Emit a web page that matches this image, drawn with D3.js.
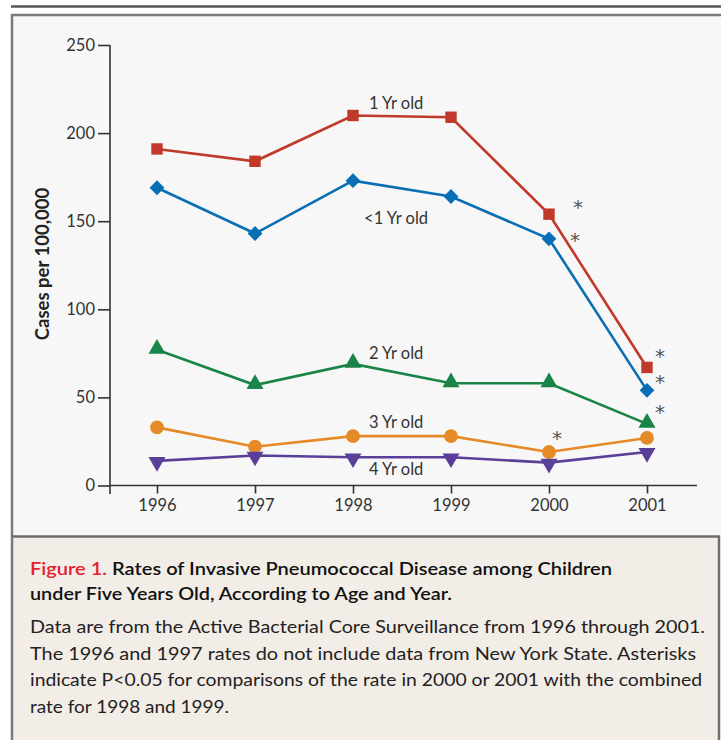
<!DOCTYPE html>
<html><head><meta charset="utf-8">
<script src="https://cdn.jsdelivr.net/npm/d3@7"></script>
<style>body{margin:0;background:#fff}svg{display:block}</style>
</head><body>
<script>
const years = [1996, 1997, 1998, 1999, 2000, 2001];
const yTicks = [0, 50, 100, 150, 200, 250];
const oneYr = [191, 184, 210, 209, 154, 67];
const underOne = [169, 143, 173, 164, 140, 54];
const twoYr = [77, 57, 69, 58, 58, 35];
const threeYr = [33, 22, 28, 28, 19, 27];
const fourYr = [14, 17, 16, 16, 13, 19];
const seriesNames = ["1 Yr old", "<1 Yr old", "2 Yr old", "3 Yr old", "4 Yr old"];
const seriesLabelValues = [213.5, 148.5, 72, 32.5, 6]; // value level at which each label sits (year 1998.44)
const asteriskPoints = [
  {s: 0, year: 2000}, {s: 1, year: 2000}, {s: 0, year: 2001},
  {s: 1, year: 2001}, {s: 2, year: 2001}, {s: 3, year: 2000}
];
const captionTitle = ["Rates of Invasive Pneumococcal Disease among Children", "under Five Years Old, According to Age and Year."];
const captionBody = [
  "Data are from the Active Bacterial Core Surveillance from 1996 through 2001.",
  "The 1996 and 1997 rates do not include data from New York State. Asterisks",
  "indicate P<0.05 for comparisons of the rate in 2000 or 2001 with the combined",
  "rate for 1998 and 1999."
];

const series = [
  {name: seriesNames[0], values: oneYr, color: "#c0392b", shape: "square"},
  {name: seriesNames[1], values: underOne, color: "#0a6eb4", shape: "diamond"},
  {name: seriesNames[2], values: twoYr, color: "#188447", shape: "triup"},
  {name: seriesNames[3], values: threeYr, color: "#e58a26", shape: "circle"},
  {name: seriesNames[4], values: fourYr, color: "#5a3f98", shape: "tridown"}
];

const W = 721, H = 740;
const svg = d3.select("body").append("svg").attr("width", W).attr("height", H);

svg.append("rect").attr("x", 0).attr("y", 0).attr("width", W).attr("height", H).attr("fill", "#fff");
svg.append("line").attr("x1", 11).attr("x2", W).attr("y1", 6.5).attr("y2", 6.5).attr("stroke", "#555").attr("stroke-width", 2.5);
svg.append("rect").attr("x", 12).attr("y", 15).attr("width", W - 12).attr("height", 521).attr("fill", "#f7f7f7");
svg.append("rect").attr("x", 12).attr("y", 537).attr("width", 707).attr("height", 210).attr("fill", "#f2ede6");
svg.append("path").attr("d", `M12,${H}V15H${W}`).attr("fill", "none").attr("stroke", "#7a7a7a").attr("stroke-width", 2.5);
svg.append("path").attr("d", `M12,536.5H719V${H}`).attr("fill", "none").attr("stroke", "#6e6e6e").attr("stroke-width", 2.5);

const x = d3.scalePoint().domain(years).range([157, 647]);
const y = d3.scaleLinear().domain([0, 250]).range([485.5, 45]);

const font = "Lato, 'Open Sans', sans-serif";

// y axis
const yAxis = svg.append("g").attr("transform", "translate(110,0)")
  .call(d3.axisLeft(y).tickValues(yTicks).tickSize(12).tickPadding(3));
yAxis.attr("font-size", null).attr("font-family", null);
yAxis.select(".domain").remove();
yAxis.append("line").attr("x1", 0).attr("x2", 0).attr("y1", y(250)).attr("y2", 494).attr("stroke", "#333").attr("stroke-width", 1.6);
yAxis.selectAll(".tick line").attr("stroke", "#333").attr("stroke-width", 1.6);
yAxis.selectAll(".tick text").attr("fill", "#333").style("font", `16.5px ${font}`);

// x axis
const xAxis = svg.append("g").attr("transform", `translate(0,${y(0)})`)
  .call(d3.axisBottom(x).tickSize(8).tickPadding(6));
xAxis.attr("font-size", null).attr("font-family", null);
xAxis.select(".domain").remove();
xAxis.append("line").attr("x1", 110).attr("x2", 697).attr("y1", 0).attr("y2", 0).attr("stroke", "#333").attr("stroke-width", 1.6);
xAxis.selectAll(".tick line").attr("stroke", "#333").attr("stroke-width", 1.6);
xAxis.selectAll(".tick text").attr("fill", "#333").style("font", `16.5px ${font}`);

// y label
svg.append("text").attr("transform", "translate(49,264) rotate(-90)")
  .attr("text-anchor", "middle").attr("fill", "#222")
  .style("font", `bold 18.5px ${font}`).text("Cases per 100,000");

// lines
const line = d3.line().x((d, i) => x(years[i])).y(d => y(d));
const sym = {
  square: d3.symbol(d3.symbolSquare, 130),
  diamond: d3.symbol(d3.symbolSquare, 110),
  circle: d3.symbol(d3.symbolCircle, 150),
  triup: d3.symbol(d3.symbolTriangle, 125),
  tridown: d3.symbol(d3.symbolTriangle, 125)
};
series.forEach(s => {
  svg.append("path").attr("d", line(s.values)).attr("fill", "none")
    .attr("stroke", s.color).attr("stroke-width", 2.6);
});
series.forEach(s => {
  svg.selectAll(null).data(s.values).enter().append("path")
    .attr("d", sym[s.shape]())
    .attr("fill", s.color)
    .attr("transform", (d, i) => {
      let t = `translate(${x(years[i])},${y(d)})`;
      if (s.shape === "diamond") t += " rotate(45)";
      if (s.shape === "tridown") t += " rotate(180) translate(0,-1)";
      if (s.shape === "triup") t += " translate(0,-1)";
      return t;
    });
});

// series labels
const labelX = d3.scaleLinear().domain([1998, 1999]).range([x(1998), x(1999)]);
series.forEach((s, i) => {
  svg.append("text").attr("x", labelX(1998.44)).attr("y", y(seriesLabelValues[i]))
    .attr("text-anchor", "middle").attr("fill", "#333")
    .style("font", `16.5px ${font}`).text(s.name);
});

// asterisks (offsets from the marker they annotate)
const astOffsets = [[29, 0], [26, 8], [13, -4], [13, -1], [13, -5], [8, -7]];
asteriskPoints.forEach((a, k) => {
  const s = series[a.s];
  const i = years.indexOf(a.year);
  const v = s.values[i];
  const [dx, dy] = astOffsets[k];
  svg.append("text").attr("x", x(a.year) + dx).attr("y", y(v) + dy)
    .attr("text-anchor", "middle").attr("fill", "#555")
    .style("font", `20px 'DejaVu Sans', sans-serif`).text("*");
});

// caption
const cap = svg.append("g");
const t1 = cap.append("text").attr("x", 30).attr("y", 575)
  .style("font", `600 18px ${font}`).attr("textLength", 582).attr("lengthAdjust", "spacingAndGlyphs");
t1.append("tspan").attr("fill", "#e3202c").text("Figure 1. ");
t1.append("tspan").attr("fill", "#111").text(captionTitle[0]);
cap.append("text").attr("x", 30).attr("y", 600).attr("fill", "#111")
  .style("font", `600 18px ${font}`).attr("textLength", 422).attr("lengthAdjust", "spacingAndGlyphs")
  .text(captionTitle[1]);
const bodyLens = [675, 666, 672, 199];
captionBody.forEach((t, i) => {
  cap.append("text").attr("x", 30).attr("y", 633 + i * 26.5).attr("fill", "#222")
    .style("font", `17px ${font}`).attr("textLength", bodyLens[i]).attr("lengthAdjust", "spacingAndGlyphs")
    .text(t);
});
</script>
</body></html>
